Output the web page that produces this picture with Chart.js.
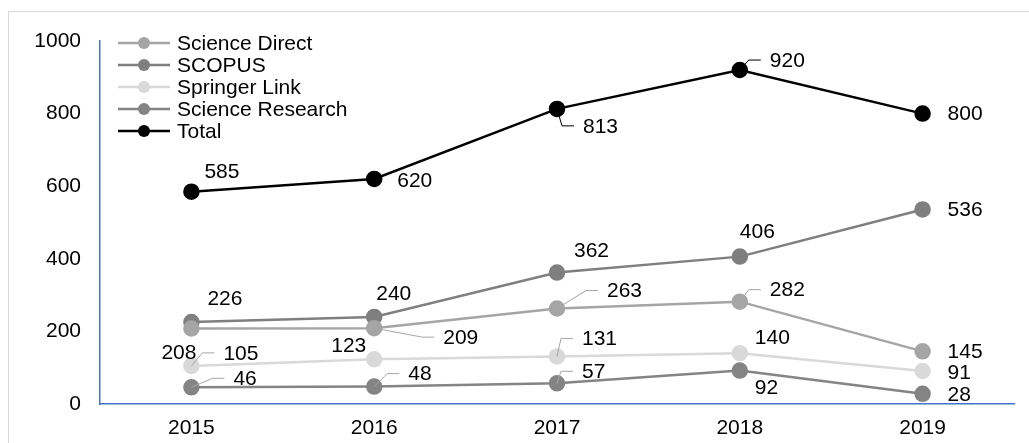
<!DOCTYPE html>
<html>
<head>
<meta charset="utf-8">
<script src="https://cdn.jsdelivr.net/npm/chart.js@4/dist/chart.umd.min.js"></script>
<style>
  html, body { margin: 0; padding: 0; background: #fff; }
  canvas { display: block; }
</style>
</head>
<body>
<canvas id="chart" width="1029" height="443"></canvas>
<script>
const years = ['2015', '2016', '2017', '2018', '2019'];
const scienceDirect = [208, 209, 263, 282, 145];
const scopus = [226, 240, 362, 406, 536];
const springerLink = [105, 123, 131, 140, 91];
const scienceResearch = [46, 48, 57, 92, 28];
const total = [585, 620, 813, 920, 800];

// label placement per point: [dx to left edge, dy to centre, leader line]
const labelPos = [
  [[-30, 24, 0], [69, 9, 1], [50, -18, 1], [30, -12, 1], [25, 0, 0]],
  [[16, -24, 0], [2, -24, 0], [17, -22, 0], [0, -25, 0], [25, 0, 0]],
  [[32, -13, 1], [-43, -14, 0], [25, -18, 1], [15, -16, 0], [25, 1, 0]],
  [[42, -9, 1], [34, -13, 1], [25, -12, 1], [15, 17, 0], [25, 0, 0]],
  [[13, -20, 0], [23, 1, 0], [26, 17, 1], [30, -10, 1], [25, 0, 0]]
];

const FONT = '21px "Liberation Sans", Arial, sans-serif';

function series(label, data, color) {
  return {
    label: label,
    data: data,
    borderColor: color,
    backgroundColor: color,
    pointBackgroundColor: color,
    pointBorderColor: color,
    borderWidth: 2.5,
    pointRadius: 7,
    pointHoverRadius: 7,
    tension: 0
  };
}

const frame = {
  id: 'frame',
  beforeDraw(chart) {
    const ctx = chart.ctx;
    ctx.save();
    ctx.fillStyle = '#fff';
    ctx.fillRect(0, 0, chart.width, chart.height);
    ctx.strokeStyle = '#d9d9d9';
    ctx.lineWidth = 1;
    ctx.strokeRect(8.5, 11.5, 1200, 1000);
    ctx.restore();
  }
};

const labels = {
  id: 'labels',
  afterDatasetsDraw(chart) {
    const ctx = chart.ctx;
    ctx.save();
    ctx.font = FONT;
    ctx.textAlign = 'left';
    ctx.textBaseline = 'middle';
    chart.data.datasets.forEach((ds, i) => {
      const meta = chart.getDatasetMeta(i);
      meta.data.forEach((pt, j) => {
        const p = labelPos[i][j];
        const lx = pt.x + p[0];
        const ly = pt.y + p[1];
        if (p[2]) {
          ctx.strokeStyle = i === 4 ? '#000' : '#a6a6a6';
          ctx.lineWidth = 1;
          ctx.beginPath();
          ctx.moveTo(pt.x, pt.y);
          ctx.lineTo(lx - 21, ly);
          ctx.lineTo(lx - 9, ly);
          ctx.stroke();
        }
        ctx.fillStyle = '#000';
        ctx.fillText(String(ds.data[j]), lx, ly + 1);
      });
    });
    ctx.restore();
  }
};

const legendBox = {
  id: 'legendBox',
  afterDraw(chart) {
    const ctx = chart.ctx;
    ctx.save();
    ctx.font = FONT;
    ctx.textBaseline = 'middle';
    chart.data.datasets.forEach((ds, i) => {
      const y = 43 + i * 22;
      ctx.strokeStyle = ds.borderColor;
      ctx.lineWidth = 2.5;
      ctx.beginPath();
      ctx.moveTo(118, y);
      ctx.lineTo(170, y);
      ctx.stroke();
      ctx.fillStyle = ds.borderColor;
      ctx.beginPath();
      ctx.arc(144, y, 6, 0, Math.PI * 2);
      ctx.fill();
      ctx.fillStyle = '#000';
      ctx.fillText(ds.label, 177, y + 1);
    });
    ctx.restore();
  }
};

new Chart(document.getElementById('chart'), {
  type: 'line',
  data: {
    labels: years,
    datasets: [
      series('Science Direct', scienceDirect, '#a5a5a5'),
      series('SCOPUS', scopus, '#7f7f7f'),
      series('Springer Link', springerLink, '#d9d9d9'),
      series('Science Research', scienceResearch, '#848484'),
      series('Total', total, '#000000')
    ]
  },
  options: {
    responsive: false,
    animation: false,
    layout: { padding: { left: 0, right: 15, top: 41, bottom: 0 } },
    plugins: {
      legend: { display: false },
      tooltip: { enabled: false }
    },
    scales: {
      x: {
        offset: true,
        grid: { display: false, drawTicks: false },
        border: { display: true, color: '#4472c4', width: 1.5 },
        ticks: { color: '#000', font: { family: '"Liberation Sans", Arial', size: 21 }, padding: 12 },
        afterFit: (s) => { s.height = 39; }
      },
      y: {
        min: 0,
        max: 1000,
        grid: { display: false, drawTicks: false },
        border: { display: true, color: '#4472c4', width: 1.5 },
        ticks: {
          stepSize: 200,
          color: '#000',
          font: { family: '"Liberation Sans", Arial', size: 21 },
          padding: 19,
          callback: (v) => String(v)
        },
        afterFit: (s) => { s.width = 100; }
      }
    }
  },
  plugins: [frame, labels, legendBox]
});
</script>
</body>
</html>
